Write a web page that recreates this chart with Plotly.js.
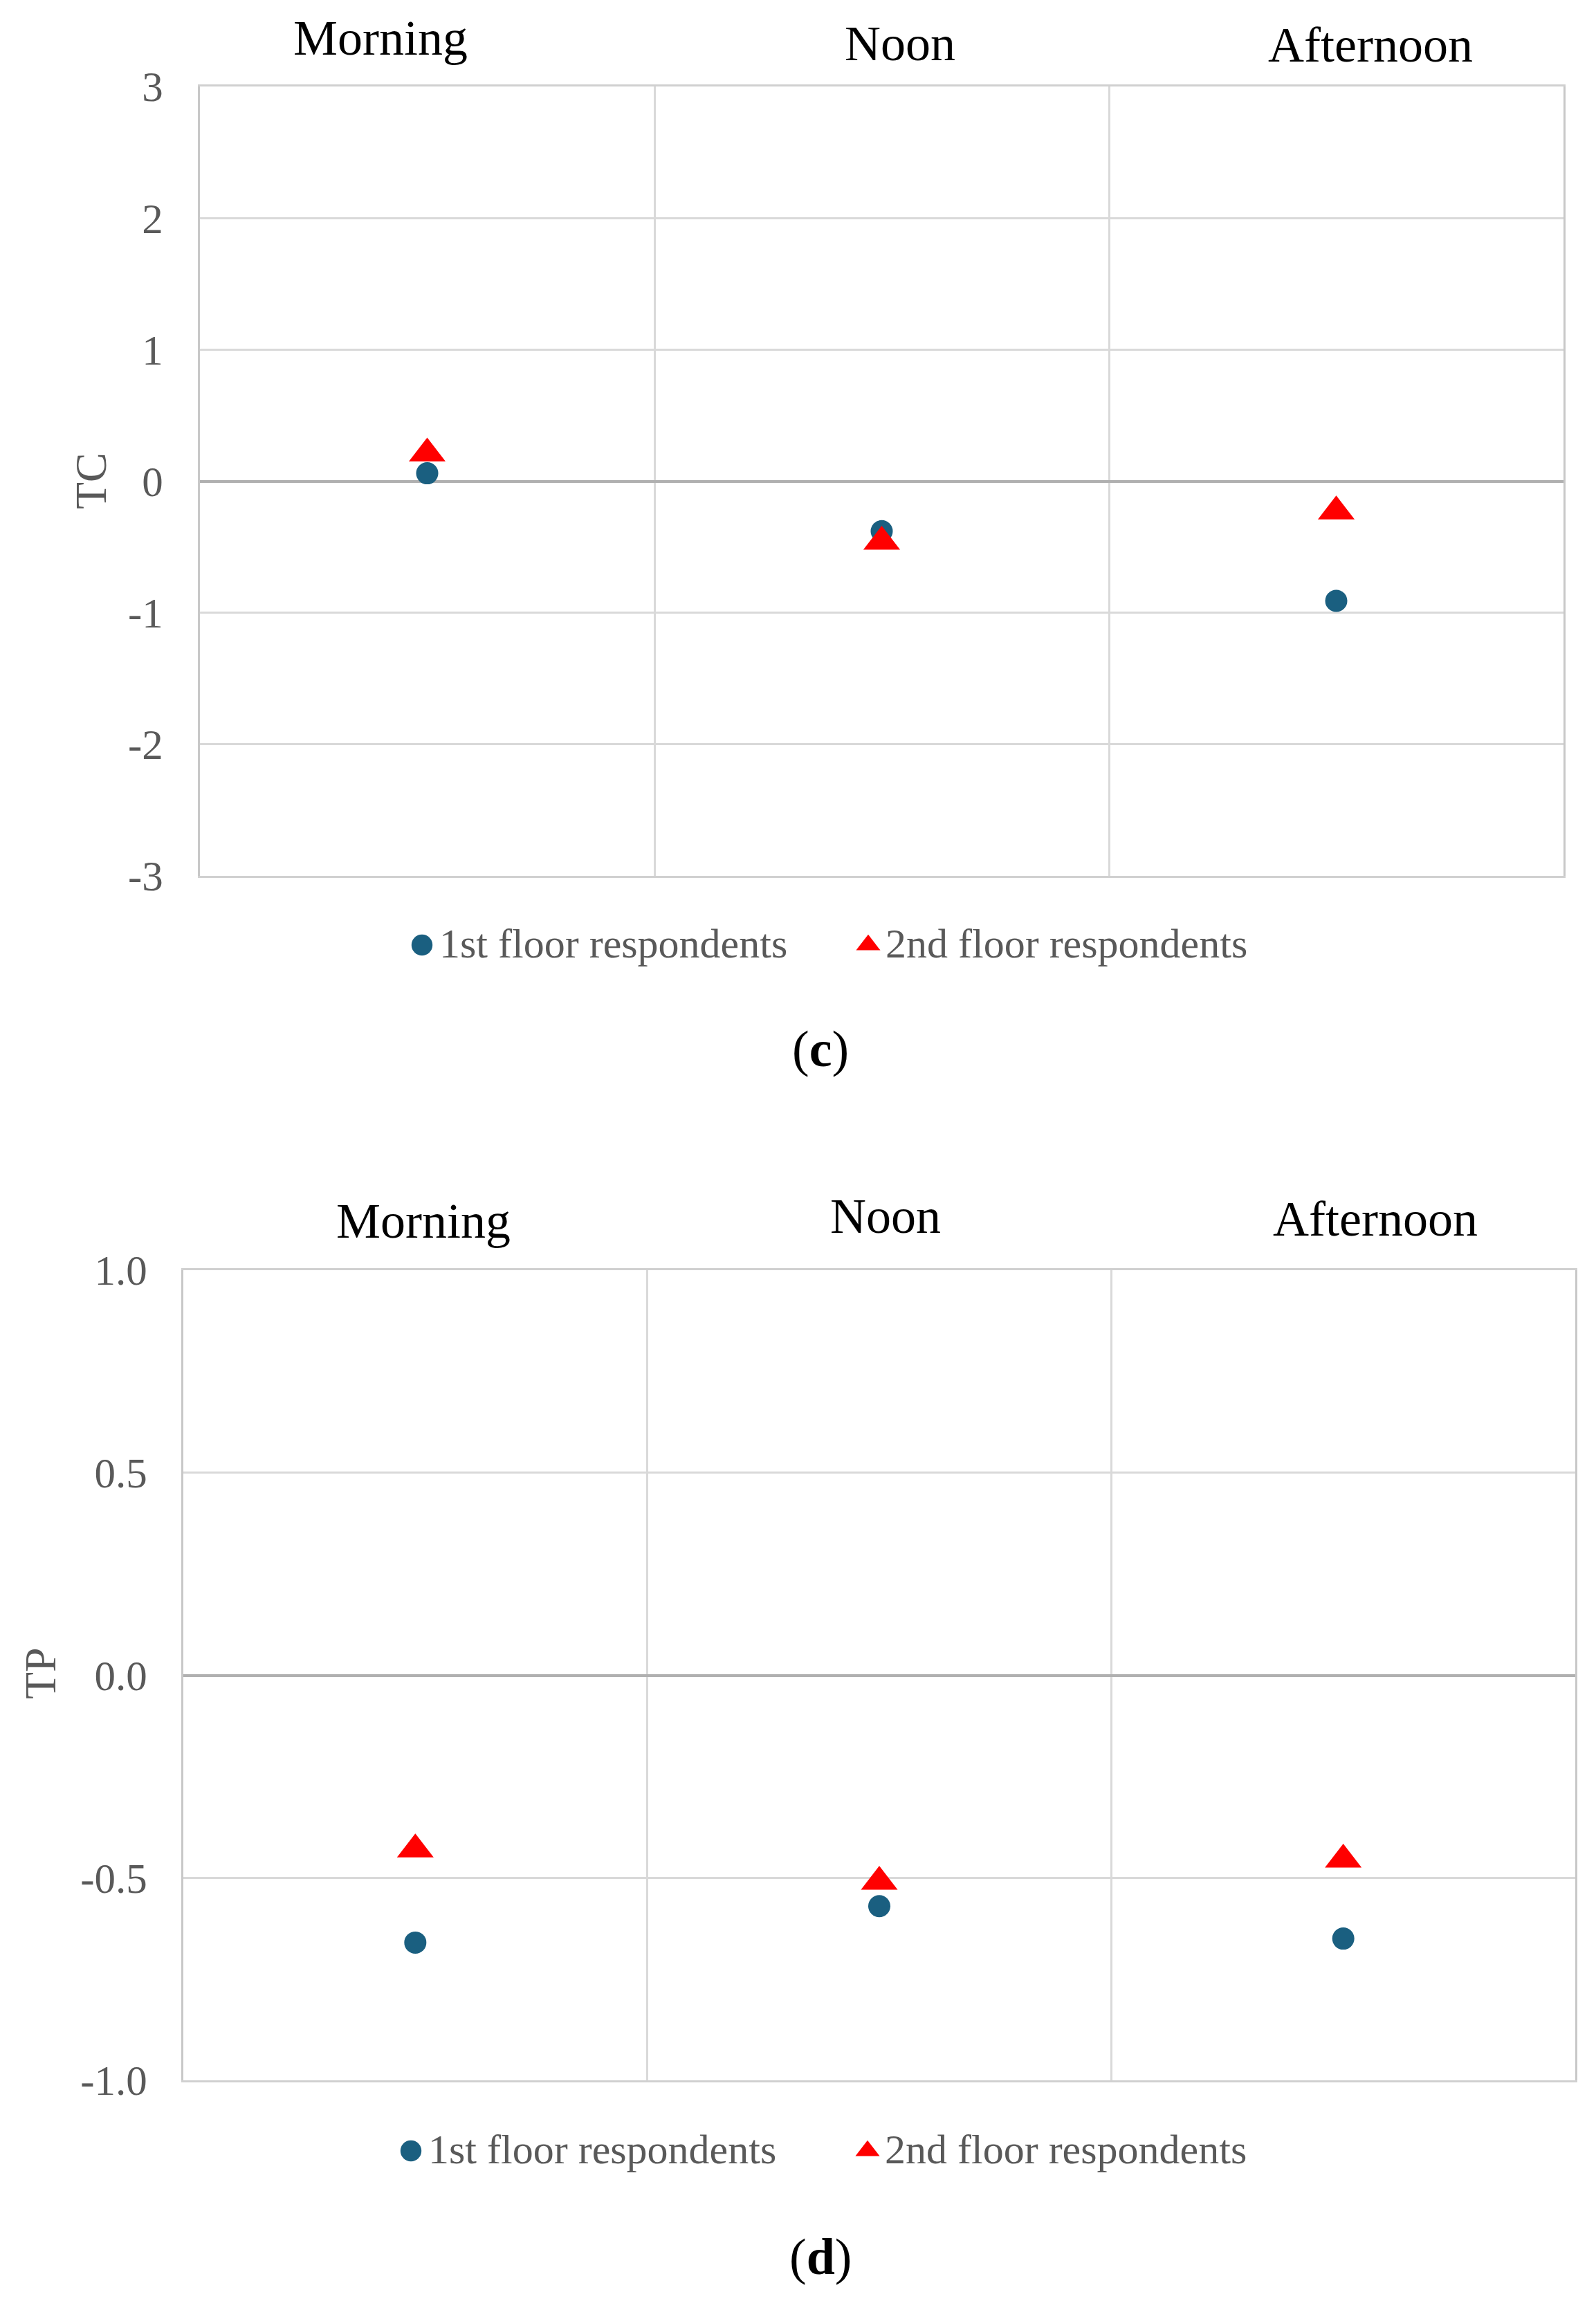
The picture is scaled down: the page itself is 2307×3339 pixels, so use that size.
<!DOCTYPE html>
<html>
<head>
<meta charset="utf-8">
<script src="https://cdn.plot.ly/plotly-3.0.1.min.js"></script>
<style>
  html, body { margin: 0; padding: 0; background: #fff; }
  #graph { width: 2307px; height: 3339px; }
</style>
</head>
<body>
<div id="graph"></div>
<script>
// periods (categories) shared by both panels
const periods = ['Morning', 'Noon', 'Afternoon'];
const seriesNames = ['1st floor respondents', '2nd floor respondents'];

// panel (c): thermal comfort vote
const tcFirst = [0.06, -0.38, -0.91];
const tcSecond = [0.21, -0.46, -0.23];

// panel (d): thermal preference vote
const tpFirst = [-0.66, -0.57, -0.65];
const tpSecond = [-0.43, -0.51, -0.455];

// ticks, the original uses plain hyphens for minus
const tcTicks = [-3, -2, -1, 0, 1, 2, 3];
const tcTickText = ['-3', '-2', '-1', '0', '1', '2', '3'];
const tpTicks = [-1.0, -0.5, 0.0, 0.5, 1.0];
const tpTickText = ['-1.0', '-0.5', '0.0', '0.5', '1.0'];

const W = 2307, H = 3339;
const FONT = '"Liberation Serif", "Times New Roman", serif';
const GREY_TXT = '#595959';
const BLUE = '#1a5f80';
const RED = '#ff0000';

function py(px) { return 1 - px / H; }   // pixel row -> paper y

const circle = {symbol: 'circle', size: 32, color: BLUE};
const tri = {symbol: 'triangle-up', size: 46, color: RED};

const traces = [
    {x: periods, y: tcFirst, name: seriesNames[0], type: 'scatter', mode: 'markers',
     marker: circle, xaxis: 'x', yaxis: 'y', legend: 'legend'},
    {x: periods, y: tcSecond, name: seriesNames[1], type: 'scatter', mode: 'markers',
     marker: tri, xaxis: 'x', yaxis: 'y', legend: 'legend'},
    {x: periods, y: tpFirst, name: seriesNames[0], type: 'scatter', mode: 'markers',
     marker: circle, xaxis: 'x2', yaxis: 'y2', legend: 'legend2'},
    {x: periods, y: tpSecond, name: seriesNames[1], type: 'scatter', mode: 'markers',
     marker: tri, xaxis: 'x2', yaxis: 'y2', legend: 'legend2'}
];

function xAxis(domain, anchor) {
    return {
        domain: domain, anchor: anchor, type: 'category',
        categoryorder: 'array', categoryarray: periods,
        range: [-0.5, 2.5], tickson: 'boundaries',
        showgrid: true, gridcolor: '#d9d9d9', gridwidth: 3,
        showline: true, mirror: true, linecolor: '#d0d0d0', linewidth: 3,
        showticklabels: false, ticks: '', zeroline: false, fixedrange: true
    };
}
function yAxis(domain, anchor, ticks, labels, tlen) {
    return {
        domain: domain, anchor: anchor,
        range: [ticks[0], ticks[ticks.length - 1]],
        tickvals: ticks, ticktext: labels,
        showgrid: true, gridcolor: '#d9d9d9', gridwidth: 3,
        showline: true, mirror: true, linecolor: '#c8c8c8', linewidth: 3,
        zeroline: true, zerolinecolor: '#b0b0b0', zerolinewidth: 4,
        ticks: 'outside', ticklen: tlen, tickcolor: 'rgba(0,0,0,0)',
        tickfont: {family: FONT, size: 61, color: GREY_TXT}, fixedrange: true
    };
}

// header labels sit a little off the category centres in the original
const headShiftC = [-68, 26, 49];
const headRowC = [55, 63, 65];
const headShiftD = [12, 9, 46];
const headRowD = [1765, 1758, 1762];

const annotations = [];
periods.forEach((p, i) => {
    annotations.push({xref: 'x', yref: 'paper', x: p, y: py(headRowC[i]), xshift: headShiftC[i],
        text: p, showarrow: false, yanchor: 'middle',
        font: {family: FONT, size: 72, color: '#000'}});
    annotations.push({xref: 'x2', yref: 'paper', x: p, y: py(headRowD[i]), xshift: headShiftD[i],
        text: p, showarrow: false, yanchor: 'middle',
        font: {family: FONT, size: 72, color: '#000'}});
});
annotations.push(
    {xref: 'paper', yref: 'paper', x: 132 / W, y: py(695), text: 'TC', textangle: -90,
     xanchor: 'center', yanchor: 'middle',
     showarrow: false, font: {family: FONT, size: 64, color: GREY_TXT}},
    {xref: 'paper', yref: 'paper', x: 58 / W, y: py(2419), text: 'TP', textangle: -90,
     xanchor: 'center', yanchor: 'middle',
     showarrow: false, font: {family: FONT, size: 64, color: GREY_TXT}},
    {xref: 'paper', yref: 'paper', x: 1186 / W, y: py(1516), text: '(<b>c</b>)',
     xanchor: 'center', yanchor: 'middle',
     showarrow: false, font: {family: FONT, size: 74, color: '#000'}},
    {xref: 'paper', yref: 'paper', x: 1186 / W, y: py(3262), text: '(<b>d</b>)',
     xanchor: 'center', yanchor: 'middle',
     showarrow: false, font: {family: FONT, size: 74, color: '#000'}}
);

function legendAt(xpx, ypx, ew) {
    return {
        orientation: 'h', x: xpx / W, xanchor: 'left', y: py(ypx), yanchor: 'middle',
        entrywidth: ew, entrywidthmode: 'pixels', itemwidth: 40,
        font: {family: FONT, size: 60, color: GREY_TXT}, bgcolor: 'rgba(0,0,0,0)'
    };
}

const layout = {
    width: W, height: H, autosize: false,
    margin: {l: 0, r: 0, t: 0, b: 0, pad: 0},
    paper_bgcolor: '#fff', plot_bgcolor: '#fff',
    font: {family: FONT},
    xaxis: xAxis([289 / W, 2260 / W], 'y'),
    yaxis: yAxis([py(1266), py(125)], 'x', tcTicks, tcTickText, 38),
    xaxis2: xAxis([265 / W, 2277 / W], 'y2'),
    yaxis2: yAxis([py(3007), py(1836)], 'x2', tpTicks, tpTickText, 37),
    legend: legendAt(585, 1361, 590),
    legend2: legendAt(569, 3104, 605),
    annotations: annotations
};

// legend symbols are capped at 16px by plotly; enlarge them and drop them onto the text middle
function bigLegendSymbols(gd) {
    gd.querySelectorAll('.legendpoints path.scatterpts').forEach(p => {
        if (!p.dataset.base) p.dataset.base = p.getAttribute('transform') || '';
        p.setAttribute('transform', p.dataset.base + ' translate(0,5) scale(1.9)');
    });
}

Plotly.newPlot('graph', traces, layout, {displayModeBar: false, staticPlot: true}).then(gd => {
    bigLegendSymbols(gd);
    gd.on('plotly_afterplot', () => bigLegendSymbols(gd));
});
</script>
</body>
</html>
